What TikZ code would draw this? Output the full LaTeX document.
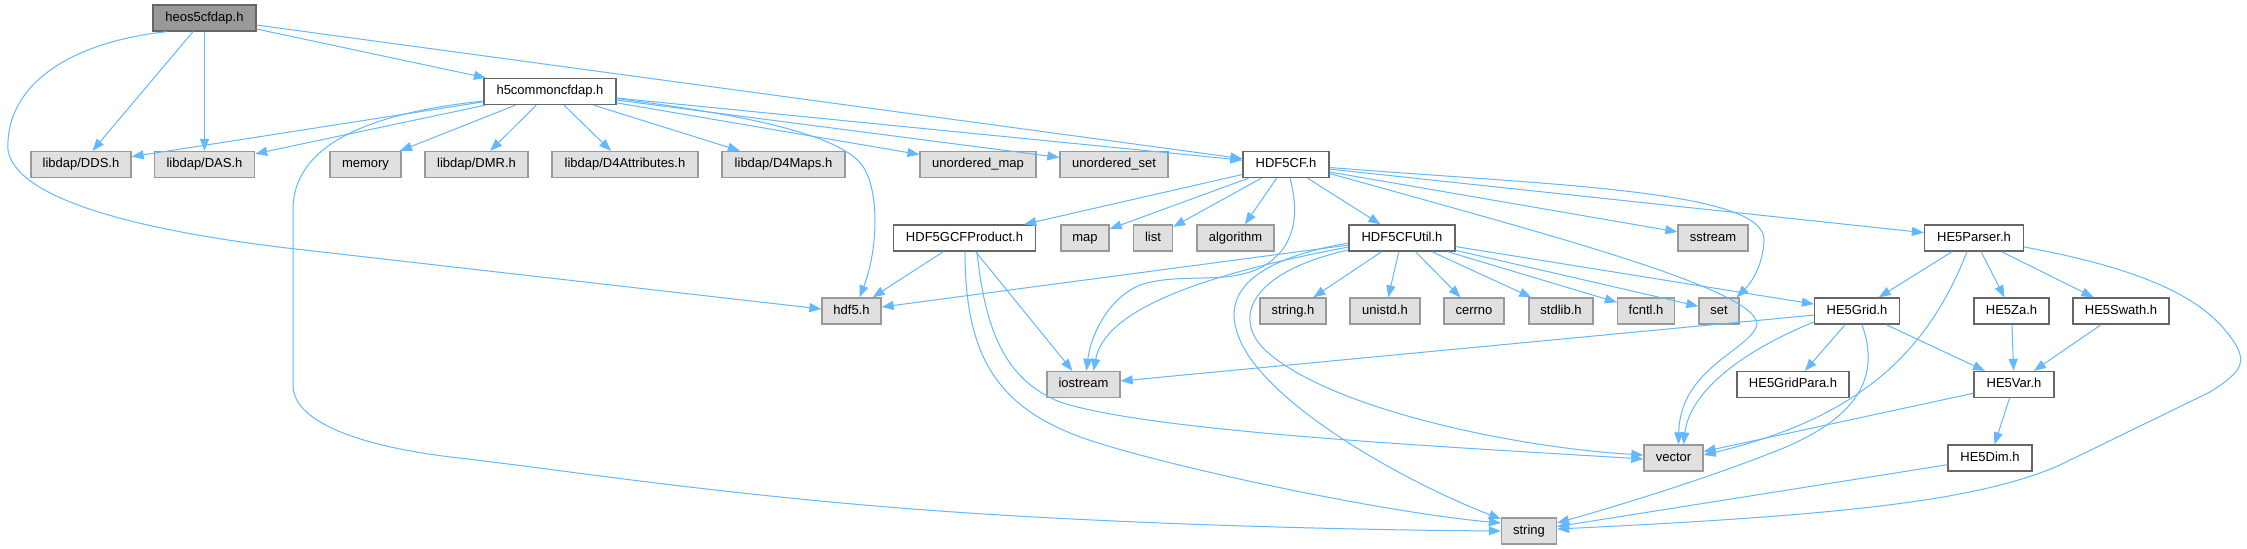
\documentclass[tikz,border=0pt]{standalone}
\usepackage{fontspec}
\setmainfont{Liberation Sans}
\usetikzlibrary{arrows.meta}
\definecolor{edgec}{HTML}{63B8FF}
\definecolor{gA}{HTML}{E0E0E0}
\definecolor{gB}{HTML}{999999}
\definecolor{gC}{HTML}{666666}
\begin{document}
\begin{tikzpicture}[x=1pt,y=-1pt,
  box/.style={draw=gC, fill=white, line width=1.3pt, minimum height=26pt, inner sep=0pt,
    font=\fontsize{13}{15}\selectfont, text height=9.5pt, text depth=2.6pt},
  ext/.style={box, draw=gB, fill=gA},
  rootbox/.style={box, draw=gC, fill=gB},
  e/.style={draw=edgec, line width=1pt, -{Triangle[length=12pt,width=9pt]}}]
\useasboundingbox[fill=white] (0,0) rectangle (2247,549);
% nodes
\node[rootbox, minimum width=103pt] (heos) at (204.5,18) {heos5cfdap.h};
\node[box, minimum width=132pt] (h5c) at (550,91.5) {h5commoncfdap.h};
\node[ext, minimum width=100pt] (dds) at (81,164.5) {libdap/DDS.h};
\node[ext, minimum width=100pt] (das) at (204.5,164.5) {libdap/DAS.h};
\node[ext, minimum width=71pt] (mem) at (365.5,164.5) {memory};
\node[ext, minimum width=103pt] (dmr) at (476.5,164.5) {libdap/DMR.h};
\node[ext, minimum width=146pt] (d4a) at (625,164.5) {libdap/D4Attributes.h};
\node[ext, minimum width=123pt] (d4m) at (783.5,164.5) {libdap/D4Maps.h};
\node[ext, minimum width=116pt] (umap) at (978,164.5) {unordered\_map};
\node[ext, minimum width=108pt] (uset) at (1114,164.5) {unordered\_set};
\node[box, minimum width=86pt] (cf) at (1286,164.5) {HDF5CF.h};
\node[box, minimum width=142pt] (gcf) at (964.5,238) {HDF5GCFProduct.h};
\node[ext, minimum width=48pt] (map) at (1085,238) {map};
\node[ext, minimum width=39pt] (list) at (1153,238) {list};
\node[ext, minimum width=77pt] (algo) at (1235.5,238) {algorithm};
\node[box, minimum width=106pt] (util) at (1402,238) {HDF5CFUtil.h};
\node[ext, minimum width=70pt] (sstr) at (1713,238) {sstream};
\node[box, minimum width=99pt] (parser) at (1974,238) {HE5Parser.h};
\node[ext, minimum width=59pt] (hdf) at (851.5,311) {hdf5.h};
\node[ext, minimum width=66pt] (strh) at (1293,311) {string.h};
\node[ext, minimum width=70pt] (unistd) at (1385,311) {unistd.h};
\node[ext, minimum width=60pt] (cerrno) at (1474,311) {cerrno};
\node[ext, minimum width=64pt] (stdlib) at (1561,311) {stdlib.h};
\node[ext, minimum width=57pt] (fcntl) at (1646,311) {fcntl.h};
\node[ext, minimum width=40pt] (set) at (1719,311) {set};
\node[box, minimum width=85pt] (grid) at (1857,311) {HE5Grid.h};
\node[box, minimum width=75pt] (za) at (2011.5,311) {HE5Za.h};
\node[box, minimum width=96pt] (swath) at (2121,311) {HE5Swath.h};
\node[ext, minimum width=73pt] (ios) at (1083.5,384.5) {iostream};
\node[box, minimum width=112pt] (gpara) at (1793,384.5) {HE5GridPara.h};
\node[box, minimum width=80pt] (var) at (2014,384.5) {HE5Var.h};
\node[ext, minimum width=59pt] (vec) at (1673.5,458) {vector};
\node[box, minimum width=84pt] (dim) at (1990,458) {HE5Dim.h};
\node[ext, minimum width=55pt] (str) at (1529,531) {string};
% heos5cfdap.h
\draw[e] (heos) -- (dds);
\draw[e] (heos) -- (das);
\draw[e] (heos) -- (h5c);
\draw[e] (heos) -- (cf);
\draw[e] ([xshift=-37.5pt]heos.south) .. controls (70,42) and (5,85) .. (8,150)
  .. controls (15,195) and (120,228) .. (287,248) -- ([yshift=2pt]hdf.west);
% h5commoncfdap.h
\draw[e] (h5c) -- (dds);
\draw[e] (h5c) -- (das);
\draw[e] (h5c) -- (mem);
\draw[e] (h5c) -- (dmr);
\draw[e] (h5c) -- (d4a);
\draw[e] (h5c) -- (d4m);
\draw[e] (h5c) -- (umap);
\draw[e] (h5c) -- (uset);
\draw[e] (h5c) -- (cf);
\draw[e] ([yshift=-7pt]h5c.east) .. controls (720,112) and (835,130) .. (862,165)
  .. controls (880,190) and (878,250) .. ([xshift=8pt]hdf.north);
\draw[e] ([yshift=-9.5pt]h5c.west) .. controls (380,112) and (293,140) .. (293,210)
  -- (293,385) .. controls (293,425) and (370,448) .. (459,458)
  .. controls (548,468) and (700,492) .. (900,508)
  .. controls (1100,524) and (1350,530) .. (str.west);
% HDF5CF.h
\draw[e] (cf) -- (gcf);
\draw[e] (cf) -- (map);
\draw[e] (cf) -- (list);
\draw[e] (cf) -- (algo);
\draw[e] (cf) -- (util);
\draw[e] (cf) -- (sstr);
\draw[e] (cf) -- (parser);
\draw[e] ([xshift=4pt]cf.south) .. controls (1300,215) and (1295,250) .. (1260,268)
  .. controls (1225,285) and (1180,272) .. (1140,285)
  .. controls (1105,300) and (1090,340) .. ([xshift=3pt]ios.north);
\draw[e] ([yshift=-3pt]cf.east) .. controls (1550,185) and (1765,190) .. (1764,240)
  .. controls (1763,265) and (1752,282) .. ([xshift=-3pt]set.north east);
\draw[e] ([yshift=-9pt]cf.east) .. controls (1550,235) and (1760,290) .. (1757,325)
  .. controls (1750,350) and (1680,368) .. ([xshift=5pt]vec.north);
% HDF5GCFProduct.h
\draw[e] (gcf) -- (hdf);
\draw[e] (gcf) -- (ios);
\draw[e] ([xshift=0.5pt]gcf.south) .. controls (965,360) and (1000,410) .. (1089,440)
  .. controls (1170,467) and (1380,512) .. ([yshift=8pt]str.west);
\draw[e] ([xshift=12.5pt]gcf.south) .. controls (985,330) and (1005,380) .. (1060,402)
  .. controls (1150,432) and (1450,447) .. ([yshift=-1pt]vec.west);
% HDF5CFUtil.h
\draw[e] (util) -- (hdf);
\draw[e] (util) -- (strh);
\draw[e] (util) -- (unistd);
\draw[e] (util) -- (cerrno);
\draw[e] (util) -- (stdlib);
\draw[e] (util) -- (fcntl);
\draw[e] (util) -- (set);
\draw[e] (util) -- (grid);
\draw[e] ([yshift=-9pt]util.west) .. controls (1200,275) and (1105,310) .. ([xshift=10pt]ios.north);
\draw[e] ([yshift=-5pt]util.west) .. controls (1240,262) and (1225,300) .. (1238,335)
  .. controls (1260,400) and (1400,480) .. ([yshift=12pt]str.west);
\draw[e] ([yshift=-12pt]util.west) .. controls (1250,272) and (1232,318) .. (1265,350)
  .. controls (1330,410) and (1520,448) .. ([yshift=3pt]vec.west);
% HE5Parser.h
\draw[e] (parser) -- (grid);
\draw[e] (parser) -- (za);
\draw[e] (parser) -- (swath);
\draw[e] ([xshift=-7pt]parser.south) .. controls (1925,360) and (1850,420) .. ([yshift=3pt]vec.east);
\draw[e] ([yshift=-9pt]parser.east) .. controls (2150,270) and (2200,300) .. (2225,330)
  .. controls (2250,360) and (2245,370) .. (2210,392) -- (2060,465)
  .. controls (1980,500) and (1850,515) .. ([yshift=2pt]str.east);
% HE5Grid.h
\draw[e] (grid) -- (ios);
\draw[e] (grid) -- (gpara);
\draw[e] (grid) -- (var);
\draw[e] ([yshift=-11pt]grid.west) .. controls (1745,350) and (1690,390) .. ([xshift=10pt]vec.north);
\draw[e] ([xshift=5pt]grid.south) .. controls (1880,375) and (1860,415) .. (1786,447)
  .. controls (1710,478) and (1620,505) .. ([yshift=8pt]str.east);
% others
\draw[e] (za) -- (var);
\draw[e] (swath) -- (var);
\draw[e] (var) -- (vec);
\draw[e] (var) -- (dim);
\draw[e] (dim) -- (str);
\end{tikzpicture}
\end{document}
